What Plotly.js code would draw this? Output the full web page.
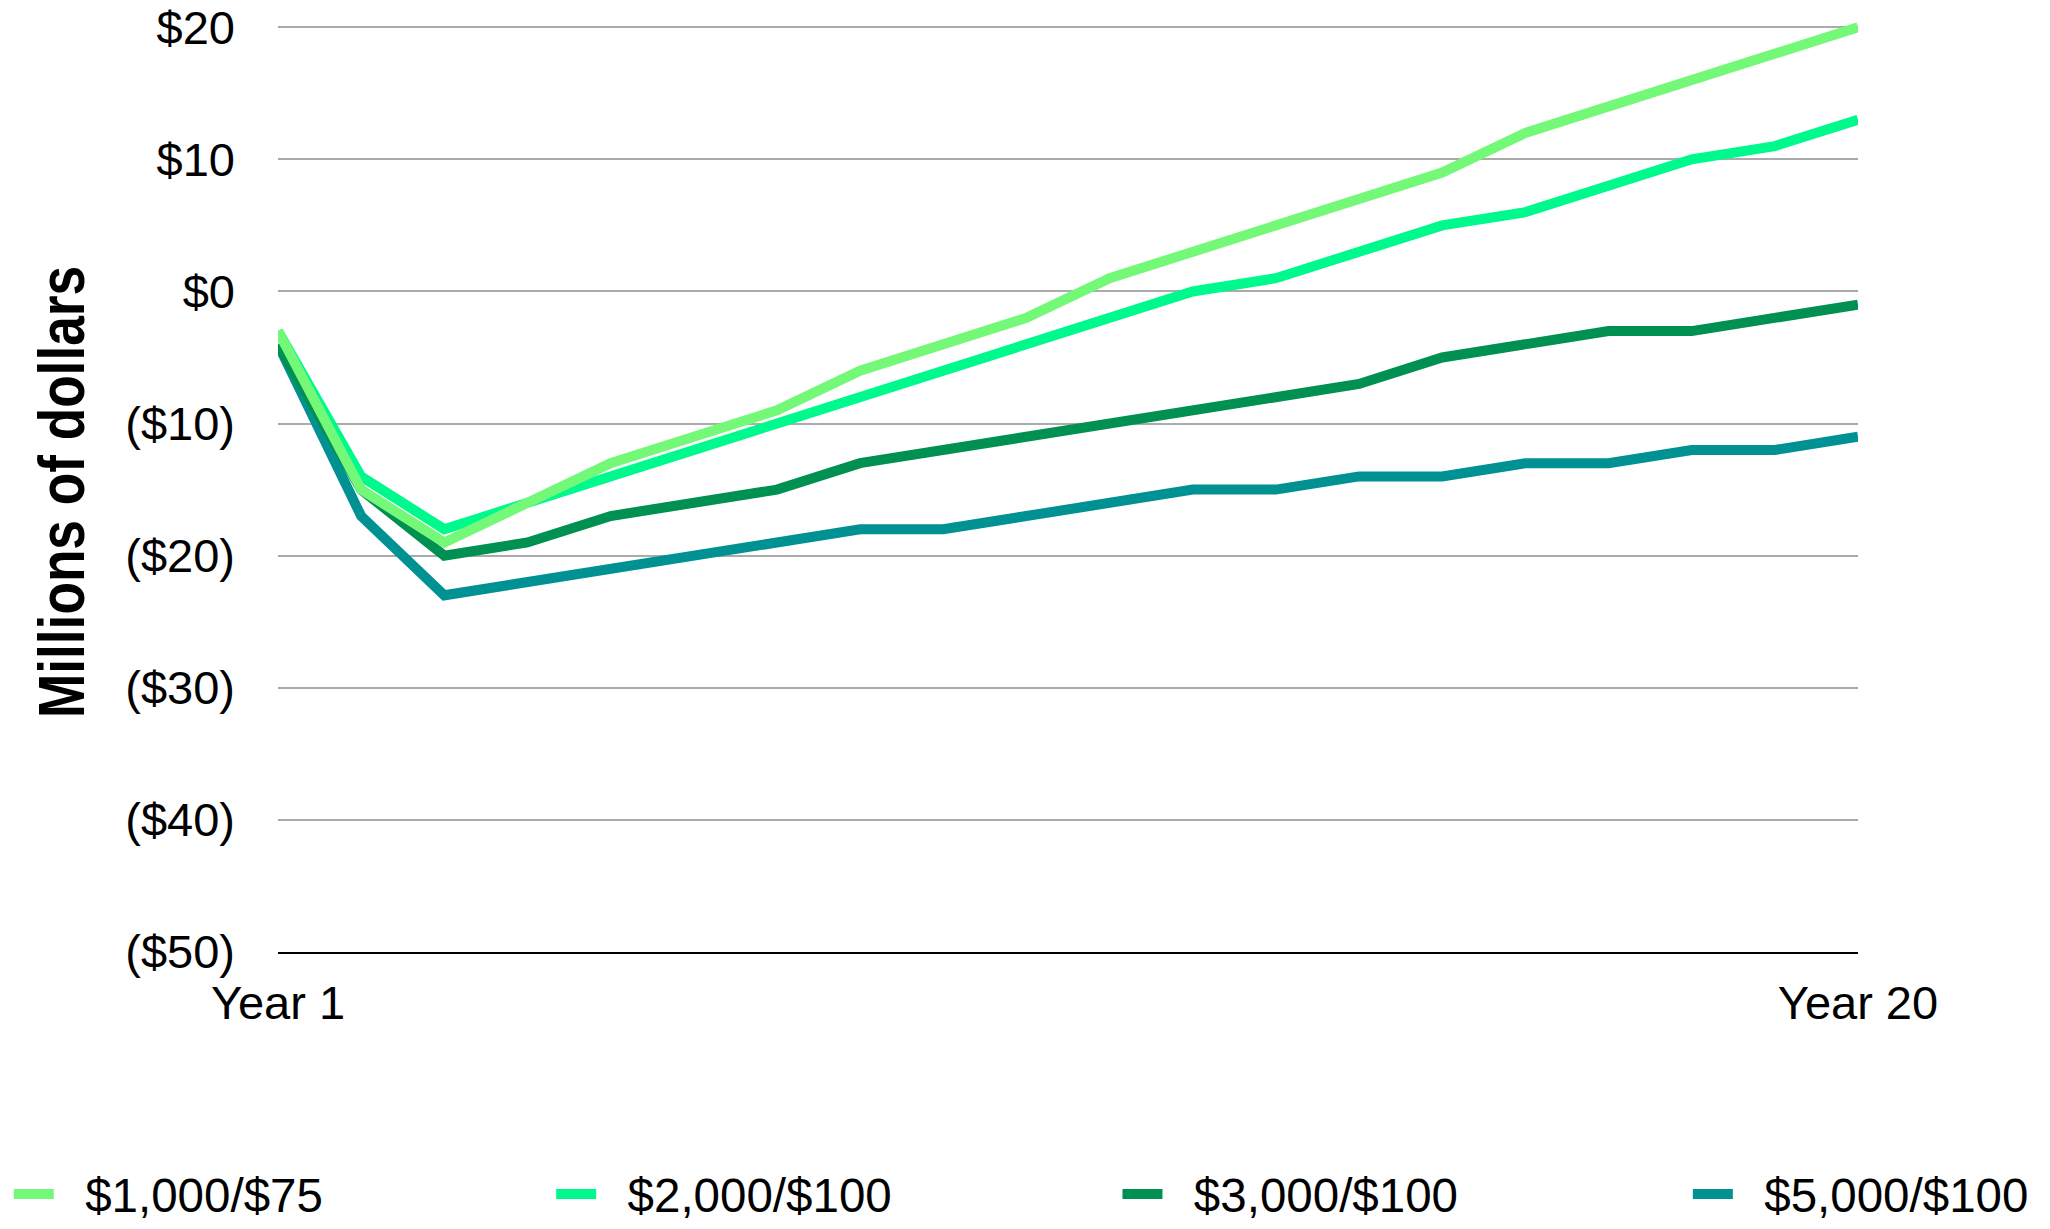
<!DOCTYPE html>
<html>
<head>
<meta charset="utf-8">
<script src="https://cdn.plot.ly/plotly-3.0.1.min.js"></script>
<style>
  html, body { margin: 0; padding: 0; background: #ffffff; }
  #chart { width: 2050px; height: 1229px; }
</style>
</head>
<body>
<div id="chart"></div>
<script>
// Cumulative cash position by year, millions of dollars
const years = [1,2,3,4,5,6,7,8,9,10,11,12,13,14,15,16,17,18,19,20];

const seriesNames = ["$1,000/$75", "$2,000/$100", "$3,000/$100", "$5,000/$100"];
const seriesColors = ["#74F878", "#00F98D", "#009051", "#009193"];

const plan1000_75  = [-3,-15,-19,-16,-13,-11,-9,-6,-4,-2,1,3,5,7,9,12,14,16,18,20];
const plan2000_100 = [-3,-14,-18,-16,-14,-12,-10,-8,-6,-4,-2,0,1,3,5,6,8,10,11,13];
const plan3000_100 = [-4,-15,-20,-19,-17,-16,-15,-13,-12,-11,-10,-9,-8,-7,-5,-4,-3,-3,-2,-1];
const plan5000_100 = [-4,-17,-23,-22,-21,-20,-19,-18,-18,-17,-16,-15,-15,-14,-14,-13,-13,-12,-12,-11];

const yTickVals = [20,10,0,-10,-20,-30,-40,-50];
const yTickText = ["$20","$10","$0","($10)","($20)","($30)","($40)","($50)"];
const xTickVals = [1,20];
const xTickText = ["Year 1","Year 20"];

const allSeries = [plan1000_75, plan2000_100, plan3000_100, plan5000_100];

const font = "Helvetica, 'Liberation Sans', Arial, sans-serif";
const legendIds = ["legend", "legend2", "legend3", "legend4"];
const legendX = [-0.1704, 0.1729, 0.5313, 0.8923];
// non-breaking spaces keep a gap between each swatch and its label
const labelPad = "\u00a0\u00a0";

const traces = allSeries.map((vals, i) => ({
  type: "scatter",
  mode: "lines",
  name: labelPad + seriesNames[i],
  legend: legendIds[i],
  x: years,
  y: vals,
  line: { color: seriesColors[i], width: 10, shape: "linear" },
  hoverinfo: "x+y+name"
}));

// light-green series sits on top
traces.reverse();

const layout = {
  width: 2050,
  height: 1229,
  paper_bgcolor: "#ffffff",
  plot_bgcolor: "#ffffff",
  margin: { l: 278, r: 192, t: 14, b: 277, autoexpand: false },
  font: { family: font, size: 47, color: "#000000" },
  showlegend: true,
  xaxis: {
    type: "linear",
    range: [1, 20],
    tickvals: xTickVals,
    ticktext: xTickText,
    showgrid: false,
    zeroline: false,
    showline: true,
    linecolor: "#000000",
    linewidth: 2,
    ticks: "",
    ticklabelstandoff: 9,
    tickfont: { family: font, size: 47, color: "#000000" },
    fixedrange: true
  },
  yaxis: {
    range: [-50, 21],
    tickvals: yTickVals,
    ticktext: yTickText,
    showgrid: true,
    gridcolor: "#ABABAB",
    gridwidth: 2,
    zeroline: false,
    showline: false,
    ticks: "",
    ticklabelstandoff: 42,
    tickfont: { family: font, size: 47, color: "#000000" },
    title: {
      text: "Millions of dollars",
      standoff: 17,
      font: { family: "'Liberation Sans', Arial, sans-serif", size: 64, weight: 700, color: "#000000" }
    },
    fixedrange: true
  }
};

// one single-entry legend per series, spread along the bottom
legendIds.forEach((id, i) => {
  layout[id] = {
    orientation: "h",
    x: legendX[i],
    xanchor: "left",
    y: -0.258,
    yanchor: "middle",
    itemwidth: 40,
    font: { family: font, size: 47.5, color: "#000000" },
    bgcolor: "rgba(0,0,0,0)",
    borderwidth: 0
  };
});

Plotly.newPlot("chart", traces, layout, { displayModeBar: false, responsive: false }).then(() => {
  // condensed look for the axis title
  const t = document.querySelector("#chart .g-ytitle text");
  if (t) {
    t.setAttribute("textLength", "452");
    t.setAttribute("lengthAdjust", "spacingAndGlyphs");
    t.parentNode.setAttribute("transform", "translate(-2,9)");
  }
});
</script>
</body>
</html>
